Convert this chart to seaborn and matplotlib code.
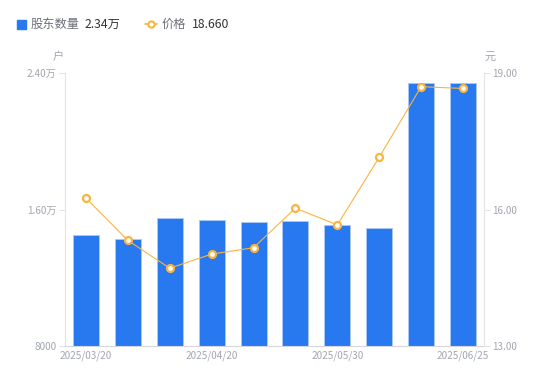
import numpy as np
import pandas as pd
import matplotlib
matplotlib.use("Agg")
import matplotlib.pyplot as plt
from matplotlib.patches import Rectangle
from matplotlib.lines import Line2D
import seaborn as sns

# ---- data ----
dates = ["2025/03/20", "2025/03/31", "2025/04/10", "2025/04/20", "2025/04/30",
         "2025/05/10", "2025/05/30", "2025/06/10", "2025/06/20", "2025/06/25"]
holders = [14500, 14270, 15480, 15390, 15270, 15310, 15070, 14910, 23400, 23400]
price = [16.25, 15.32, 14.71, 15.02, 15.16, 16.03, 15.66, 17.15, 18.70, 18.66]
left_ticks = [8000, 16000, 24000]
left_tick_labels = ["8000", "1.60万", "2.40万"]
right_ticks = [13.0, 16.0, 19.0]
right_tick_labels = ["13.00", "16.00", "19.00"]
shown_dates = ["2025/03/20", "2025/04/20", "2025/05/30", "2025/06/25"]
legend_names = ["股东数量", "价格"]
legend_values = ["2.34万", "18.660"]
unit_left = "户"
unit_right = "元"

sns.set_theme(style="white")
plt.rcParams['font.family'] = ['Noto Sans CJK SC', 'DejaVu Sans']

BAR = "#2878F0"
BAR_EDGE = "#A8C8F8"
LINE = "#F8B541"
TICK = "#A3A6B1"
AXIS = "#E3E4E8"

W, H = 550, 381
fig = plt.figure(figsize=(W / 100, H / 100), dpi=100)
ax = fig.add_axes([65 / W, 1 - 346 / H, (484 - 65) / W, (346 - 73) / H])

df = pd.DataFrame({"date": dates, "holders": holders, "price": price})
sns.barplot(data=df, x="date", y="holders", color=BAR, width=0.62,
            edgecolor=BAR_EDGE, linewidth=0.7, saturation=1, ax=ax)
ax.set_xlim(-0.5, len(dates) - 0.5)
ax.set_ylim(8000, 24000)
ax.set_yticks(left_ticks)
ax.set_yticklabels(left_tick_labels)
pos = [dates.index(d) for d in shown_dates]
ax.set_xticks(pos)
ax.set_xticklabels(shown_dates)
ax.set_xlabel("")
ax.set_ylabel("")

ax2 = ax.twinx()
sns.lineplot(x=np.arange(len(price)), y=price, ax=ax2, color=LINE, linewidth=0.8,
             marker="o", markersize=5, markerfacecolor="white",
             markeredgecolor=LINE, markeredgewidth=1.6)
ax2.set_ylim(13, 19)
ax2.set_yticks(right_ticks)
ax2.set_yticklabels(right_tick_labels)
ax2.set_ylabel("")

for a in (ax, ax2):
    for s in a.spines.values():
        s.set_visible(False)
    a.grid(False)
ax.spines["left"].set_visible(True)
ax.spines["left"].set_color(AXIS)
ax.spines["left"].set_linewidth(0.8)
ax.spines["bottom"].set_visible(True)
ax.spines["bottom"].set_color("#D5D7DC")
ax.spines["bottom"].set_linewidth(0.8)
ax2.spines["right"].set_visible(True)
ax2.spines["right"].set_color(AXIS)
ax2.spines["right"].set_linewidth(0.8)

ax.tick_params(axis="y", length=4, width=0.8, color=AXIS, labelsize=7.2,
               labelcolor=TICK, pad=2, left=True)
ax.tick_params(axis="x", length=0, labelsize=7.2, labelcolor=TICK, pad=3)
ax2.tick_params(axis="y", length=4, width=0.8, color=AXIS, labelsize=7.2,
                labelcolor=TICK, pad=2, right=True)

# unit labels
fig.text(58 / W, 1 - 57 / H, unit_left, fontsize=8, color=TICK, ha="center", va="center")
fig.text(490 / W, 1 - 57 / H, unit_right, fontsize=8, color=TICK, ha="center", va="center")

# legend
ly = 1 - 24 / H
fig.patches.append(Rectangle((17 / W, 1 - 28.5 / H), 8.5 / W, 8.5 / H,
                             transform=fig.transFigure, color=BAR, figure=fig))
fig.text(31 / W, ly, legend_names[0], fontsize=8.8, color="#6E7079", va="center")
fig.text(85 / W, ly, legend_values[0], fontsize=8.8, color="#333333", va="center")
fig.lines.append(Line2D([145 / W, 157 / W], [ly, ly], transform=fig.transFigure,
                        color=LINE, linewidth=1.2, figure=fig))
fig.lines.append(Line2D([151 / W], [ly], transform=fig.transFigure, color=LINE,
                        marker="o", markersize=4.5, markerfacecolor="white",
                        markeredgewidth=1.5, figure=fig))
fig.text(162 / W, ly, legend_names[1], fontsize=8.8, color="#6E7079", va="center")
fig.text(192 / W, ly, legend_values[1], fontsize=8.8, color="#333333", va="center")

fig.savefig("out.png", dpi=100)
